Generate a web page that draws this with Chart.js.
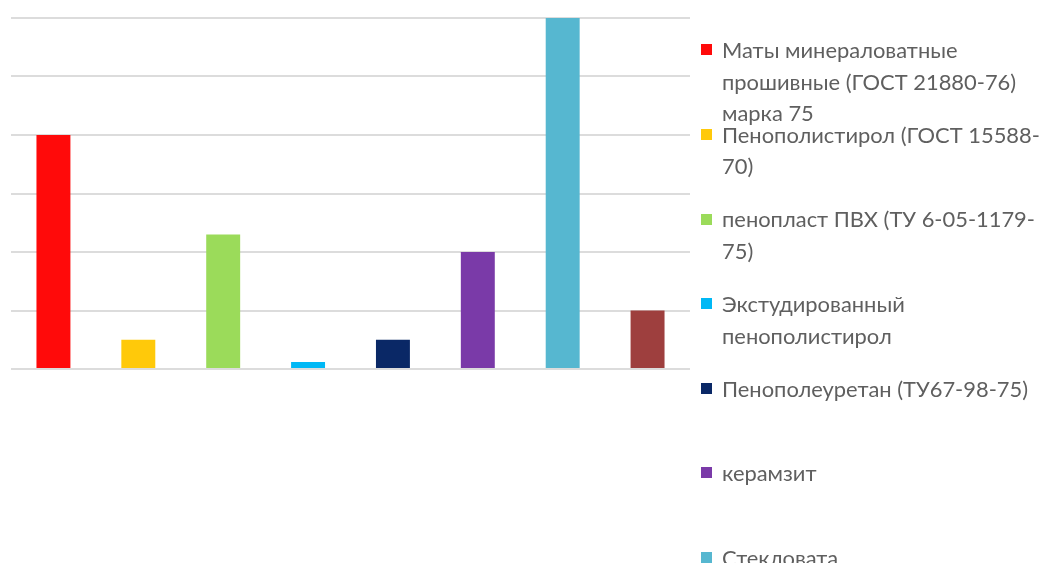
<!DOCTYPE html>
<html lang="ru">
<head>
<meta charset="utf-8">
<title>Теплоизоляционные материалы</title>
<script src="https://cdn.jsdelivr.net/npm/chart.js@4.4.1/dist/chart.umd.min.js"></script>
<style>
  html, body { margin: 0; padding: 0; background: #fff; }
  #wrap { position: relative; width: 1040px; height: 563px; overflow: hidden; }
  #chartBox { position: absolute; left: 0; top: 0; width: 1040px; height: 563px; }
  #legend { position: absolute; left: 0; top: 0; width: 1040px; height: 563px; pointer-events: none; }
  .leg-item { position: absolute; left: 701px; font-family: Lato, "Open Sans", sans-serif; font-size: 21.9px; line-height: 31.6px; color: #5f5f5f; white-space: nowrap; }
  .leg-box { position: absolute; left: 0; width: 11px; height: 11px; }
  .leg-text { position: absolute; left: 21px; top: 0; }
</style>
</head>
<body>
<div id="wrap">
  <div id="chartBox"><canvas id="matChart"></canvas></div>
  <div id="legend"></div>
</div>
<script>
// Материалы (каждая строка подписи - отдельный элемент)
const MATERIALS = [
    ['Маты минераловатные', 'прошивные (ГОСТ 21880-76)', 'марка 75'],
    ['Пенополистирол (ГОСТ 15588-', '70)'],
    ['пенопласт ПВХ (ТУ 6-05-1179-', '75)'],
    ['Экстудированный', 'пенополистирол'],
    ['Пенополеуретан (ТУ67-98-75)'],
    ['керамзит'],
    ['Стекловата'],
    ['']
];
const VALUES = [4, 0.5, 2.3, 0.12, 0.5, 2, 6, 1];
const COLORS = ['#ff0a0a', '#ffc90a', '#9bdb5a', '#00b8f5', '#0a2866', '#7a3aa8', '#56b7d0', '#9e3f3e'];
const Y_MAX = 6;

function renderLegend() {
    const box = document.getElementById('legend');
    box.innerHTML = '';
    const firstCenter = 50;   // центр первого маркера
    const step = 84.6;        // шаг между элементами легенды
    MATERIALS.forEach((lines, i) => {
        const center = firstCenter + i * step;
        const item = document.createElement('div');
        item.className = 'leg-item';
        item.style.top = (center - 15.8) + 'px';
        item.innerHTML = `
            <span class="leg-box" style="background:${COLORS[i]}; top:${15.8 - 5.5}px"></span>
            <div class="leg-text">${lines.join('<br>')}</div>
        `;
        box.appendChild(item);
    });
}

function renderChart() {
    const ctx = document.getElementById('matChart').getContext('2d');
    window.matChartInstance = new Chart(ctx, {
        type: 'bar',
        data: {
            labels: MATERIALS.map(l => l.join(' ')),
            datasets: [{
                data: VALUES,
                backgroundColor: COLORS,
                borderWidth: 0,
                categoryPercentage: 1,
                barPercentage: 0.4
            }]
        },
        options: {
            responsive: true,
            maintainAspectRatio: false,
            animation: false,
            layout: { padding: { left: 11, top: 18, right: 350, bottom: 194 } },
            plugins: {
                legend: { display: false },
                tooltip: { enabled: false }
            },
            scales: {
                x: { display: false },
                y: {
                    min: 0,
                    max: Y_MAX,
                    ticks: { display: false, stepSize: 1 },
                    border: { display: false },
                    grid: { color: '#dcdcdc', lineWidth: 2, drawTicks: false }
                }
            }
        }
    });
}

renderLegend();
renderChart();
</script>
</body>
</html>
